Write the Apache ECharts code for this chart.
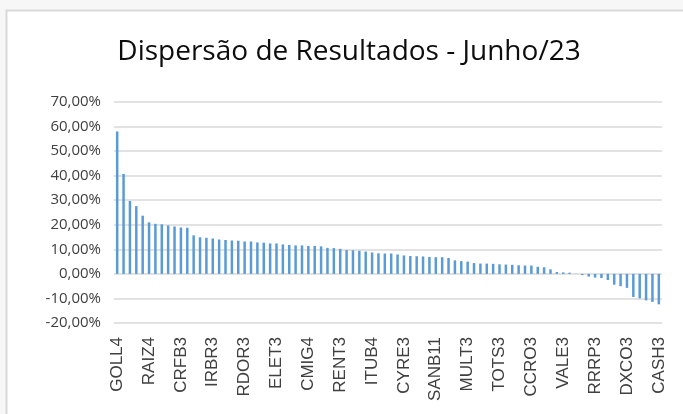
<!DOCTYPE html>
<html>
<head>
<meta charset="utf-8">
<script src="https://cdn.jsdelivr.net/npm/echarts@6/dist/echarts.min.js"></script>
<style>
  html, body { margin: 0; padding: 0; background: #f7f7f7; }
  #chart { width: 683px; height: 414px; }
</style>
</head>
<body>
<div id="chart"></div>
<script>
// rótulos visíveis do eixo (um a cada 5 ativos)
const tickLabels = ['GOLL4', 'RAIZ4', 'CRFB3', 'IRBR3', 'RDOR3', 'ELET3', 'CMIG4', 'RENT3', 'ITUB4',
  'CYRE3', 'SANB11', 'MULT3', 'TOTS3', 'CCRO3', 'VALE3', 'RRRP3', 'DXCO3', 'CASH3']

// retorno do mês em %, ordenado do maior para o menor
const values = [
  58.0, 40.7, 29.7, 27.6, 23.7, 21.0, 20.4, 20.2, 19.7, 19.3,
  18.9, 18.8, 15.7, 14.9, 14.7, 14.4, 14.0, 13.8, 13.6, 13.5,
  13.2, 13.2, 12.8, 12.7, 12.4, 12.4, 12.0, 11.8, 11.6, 11.6,
  11.4, 11.4, 11.2, 10.6, 10.5, 10.2, 9.7, 9.6, 9.4, 9.1,
  8.7, 8.4, 8.3, 8.3, 7.9, 7.5, 7.3, 7.2, 7.1, 6.9,
  6.8, 6.8, 6.5, 5.5, 5.2, 5.0, 4.4, 4.2, 4.2, 4.1,
  3.9, 3.8, 3.7, 3.5, 3.4, 3.4, 2.9, 2.7, 1.85, 0.75,
  0.6, 0.5, 0.05, -0.5, -1.1, -1.5, -1.7, -2.5, -4.4, -5.0,
  -5.7, -9.4, -10.0, -10.8, -11.4, -12.4
]

// categorias: só os ativos rotulados têm nome visível
const categories = values.map((v, i) => (i % 5 === 0 ? tickLabels[i / 5] : ''))

const chart = echarts.init(document.getElementById('chart'))
chart.setOption({
  backgroundColor: '#f7f7f7',
  animation: false,
  graphic: [{
    type: 'rect',
    z: -100,
    shape: { x: 6.5, y: 10.5, width: 720, height: 440 },
    style: { fill: '#ffffff', stroke: '#d9d9d9', lineWidth: 2 }
  }],
  title: {
    text: 'Dispersão de Resultados - Junho/23',
    left: 344,
    textAlign: 'center',
    top: 33,
    textStyle: { fontFamily: 'Open Sans', fontSize: 28, fontWeight: 'normal', color: '#0d0d0d' }
  },
  grid: { left: 114, right: 21, top: 102, bottom: 91 },
  xAxis: {
    type: 'category',
    data: categories,
    axisLine: { show: false, onZero: false },
    axisTick: { show: false },
    axisLabel: {
      interval: 0,
      rotate: 90,
      margin: 14,
      fontFamily: 'Liberation Sans',
      fontSize: 17,
      color: '#404040'
    }
  },
  yAxis: {
    type: 'value',
    min: -20,
    max: 70,
    interval: 10,
    axisLine: { show: false },
    axisTick: { show: false },
    splitLine: { lineStyle: { color: '#d9d9d9', width: 1.5 } },
    axisLabel: {
      margin: 13,
      fontFamily: 'Open Sans',
      fontSize: 15,
      color: '#404040',
      formatter: v => v.toFixed(2).replace('.', ',') + '%'
    }
  },
  series: [{
    type: 'bar',
    data: values,
    barWidth: 2.5,
    itemStyle: { color: '#5b9bd5' }
  }]
})
</script>
</body>
</html>
